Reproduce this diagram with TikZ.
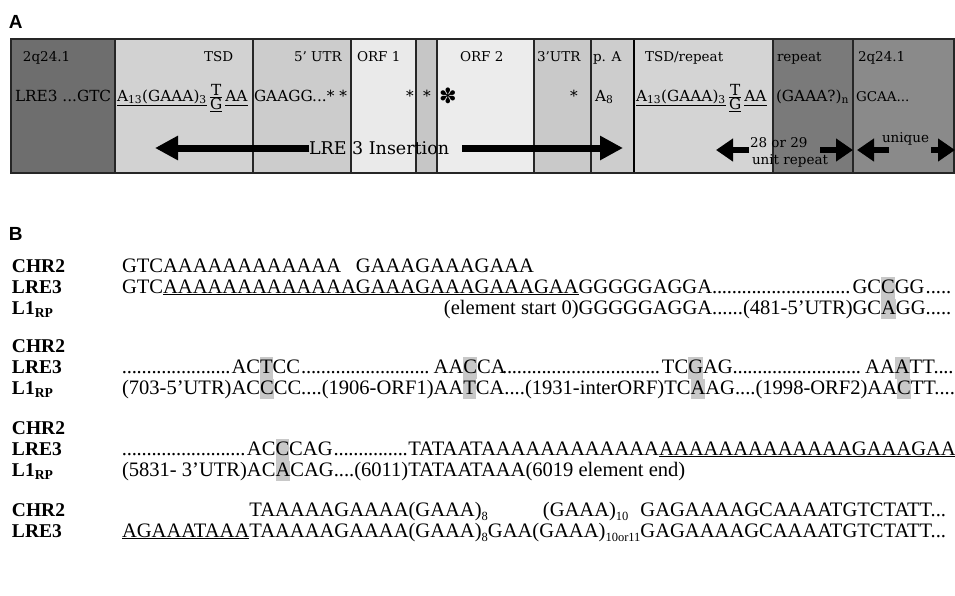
\documentclass[tikz,border=0pt]{standalone}
\usepackage{fontspec}
\setmainfont{Liberation Serif}
\setsansfont{Liberation Sans}
\newfontfamily\pafont{DejaVu Serif}
\newfontfamily\symfont{DejaVu Sans}
\usetikzlibrary{arrows.meta}
\definecolor{gL}{HTML}{6E6E6E}
\definecolor{gTSD}{HTML}{D2D2D2}
\definecolor{gUTRf}{HTML}{CCCCCC}
\definecolor{gORFa}{HTML}{EAEAEA}
\definecolor{gInt}{HTML}{C6C6C6}
\definecolor{gORFb}{HTML}{ECECEC}
\definecolor{gUTRt}{HTML}{C9C9C9}
\definecolor{gPA}{HTML}{CDCDCD}
\definecolor{gTSDr}{HTML}{D4D4D4}
\definecolor{gRep}{HTML}{7A7A7A}
\definecolor{gR}{HTML}{8A8A8A}
\definecolor{hl}{HTML}{C8C8C8}
\newcommand\hlu[1]{{\setlength\fboxsep{0pt}\colorbox{hl}{\rule[-6pt]{0pt}{22pt}#1}}}
\newcommand\hll[1]{{\setlength\fboxsep{0pt}\colorbox{hl}{\rule[-5pt]{0pt}{20pt}#1}}}
\newcommand\alg[2]{\setbox0\hbox{#1}\hbox to\wd0{#2\hss}}
\newcommand\ralg[2]{\setbox0\hbox{#1}\hbox to\wd0{\hss#2}}
\newcommand\dotw[1]{\setbox0\hbox{#1}\hbox to\wd0{\leaders\hbox to .24em{\hss.\hss}\hfill}}
\newcommand\lowsub[1]{\raisebox{-4pt}{\fontsize{12.5}{14}\selectfont #1}}
\newcommand\TG{${\hbox{T}\over\hbox{\underline{G}}}$}
\newcommand\tsd{\underline{A\textsubscript{13}(GAAA)\textsubscript{3}}\kern2pt\TG\kern2pt\underline{\vphantom{A\textsubscript{3}}AA}}
\newcommand\Afive{AAAAA}
\newcommand\Ath{\Afive\Afive AAA}
\newcommand\preA{GTC\underline{\Ath GAAAGAAAGAAAGAA}}
\tikzset{
  txt/.style={anchor=base west, inner sep=0pt, outer sep=0pt},
  pa/.style={txt, font=\pafont\fontsize{13.5}{16}\selectfont},
  pas/.style={txt, font=\pafont\fontsize{15.3}{18}\selectfont},
  sq/.style={txt, font=\fontsize{20.55}{24}\selectfont},
  lab/.style={txt, font=\bfseries\fontsize{19.5}{24}\selectfont},
  panel/.style={txt, font=\sffamily\bfseries\fontsize{19}{22}\selectfont},
  bigarr/.style={line width=7pt, -{Triangle[length=23pt,width=23pt]}},
  smallarr/.style={line width=6pt, -{Triangle[length=17pt,width=22pt]}},
  divider/.style={line width=1.1pt, black!85}
}
\begin{document}
\begin{tikzpicture}[x=1pt,y=-1pt]
\useasboundingbox[fill=white] (0,0) rectangle (955,595);
% ---------- Panel A ----------
\node[panel] (labA) at (9,28) {A};
\foreach \xa/\xb/\c in {11/115/gL, 115/253/gTSD, 253/351/gUTRf, 351/416/gORFa, 416/437/gInt, 437/534/gORFb, 534/591/gUTRt, 591/634/gPA, 634/773/gTSDr, 773/853/gRep, 853/954/gR}
  \fill[\c] (\xa,39) rectangle (\xb,173);
\foreach \xd in {115,253,351,416,437,534,591,773,853}
  \draw[divider] (\xd,39) -- (\xd,173);
\draw[line width=1.6pt] (634,39) -- (634,173);
\draw[line width=1.2pt, black!85] (11,39) rectangle (954,173);
% headers
\node[pa] (h1) at (23,61) {2q24.1};
\node[pa] (h2) at (204,61) {TSD};
\node[pa] (h3) at (294,61) {5’ UTR};
\node[pa] (h4) at (357,61) {ORF 1};
\node[pa] (h5) at (460,61) {ORF 2};
\node[pa] (h6) at (537,61) {3’UTR};
\node[pa] (h7) at (593,61) {p. A};
\node[pa] (h8) at (645,61) {TSD/repeat};
\node[pa] (h9) at (777,61) {repeat};
\node[pa] (h10) at (858,61) {2q24.1};
% sequence row
\node[pas] (s1) at (15,101) {LRE3 ...GTC};
\node[pas] (s2) at (117,101) {\tsd};
\node[pas] (s3) at (254,101) {GAAGG...* *};
\node[pas] (s4) at (406,101) {*};
\node[pas] (s5) at (423,101) {*};
\node[txt, font=\symfont\fontsize{21}{24}\selectfont] (s6) at (439,103) {✽};
\node[pas] (s7) at (570,101) {*};
\node[pas] (s8) at (595,101) {A\textsubscript{8}};
\node[pas] (s9) at (636,101) {\tsd};
\node[pas] (s10) at (776,101) {(GAAA?)\textsubscript{n}};
\node[pa] (s11) at (856,101) {GCAA...};
% arrows
\coordinate (la1) at (309,148); \coordinate (la2) at (155,148);
\coordinate (ra1) at (462,148); \coordinate (ra2) at (623,148);
\draw[bigarr] (la1) -- (la2);
\draw[bigarr] (ra1) -- (ra2);
\node[txt, font=\pafont\fontsize{17.5}{20}\selectfont] (ins) at (309,154) {LRE 3 Insertion};
\coordinate (u1) at (749,150); \coordinate (u2) at (716,150);
\coordinate (u3) at (820,150); \coordinate (u4) at (853,150);
\coordinate (q1) at (889,150); \coordinate (q2) at (857,150);
\coordinate (q3) at (931,150); \coordinate (q4) at (955,150);
\draw[smallarr] (u1) -- (u2);
\draw[smallarr] (u3) -- (u4);
\draw[smallarr] (q1) -- (q2);
\draw[smallarr] (q3) -- (q4);
\node[pa] (t28) at (750,147) {28 or 29};
\node[pa] (tunit) at (752,164) {unit repeat};
\node[pa] (tuniq) at (882,142) {unique};
% ---------- Panel B ----------
\node[panel] (labB) at (9,240) {B};
% block 1
\node[lab] (b1c) at (12,272) {CHR2};
\node[lab] (b1l) at (12,293) {LRE3};
\node[lab] (b1r) at (12,314) {L1\textsubscript{RP}};
\node[sq] (q1c) at (122,272) {\alg{GTC\Ath}{GTC\Afive\Afive AA}GAAAGAAAGAAA};
\node[sq] (q1l) at (122,293) {\preA GGGGGAGGA\dotw{......(481-5’UTR)}\alg{GCAGG}{GC\hlu{C}GG}.....};
\node[sq] (q1r) at (122,314) {\ralg{\preA}{(element start 0)}GGGGGAGGA......(481-5’UTR)GC\hll{A}GG.....};
% block 2
\node[lab] (b2c) at (12,352) {CHR2};
\node[lab] (b2l) at (12,373) {LRE3};
\node[lab] (b2r) at (12,394) {L1\textsubscript{RP}};
\node[sq] (q2l) at (122,373) {\dotw{(703-5’UTR)}\alg{ACCCC}{AC\hlu{T}CC}\dotw{....(1906-ORF1)}\alg{AATCA}{AA\hlu{C}CA}\dotw{....(1931-interORF)}\alg{TCAAG}{TC\hlu{G}AG}\dotw{....(1998-ORF2)}\alg{AACTT}{AA\hlu{A}TT}\dotw{....}};
\node[sq] (q2r) at (122,394) {(703-5’UTR)AC\hll{C}CC....(1906-ORF1)AA\hll{T}CA....(1931-interORF)TC\hll{A}AG....(1998-ORF2)AA\hll{C}TT....};
% block 3
\node[lab] (b3c) at (12,434) {CHR2};
\node[lab] (b3l) at (12,455) {LRE3};
\node[lab] (b3r) at (12,476) {L1\textsubscript{RP}};
\node[sq] (q3l) at (122,455) {\dotw{(5831- 3’UTR)}\alg{ACACAG}{AC\hlu{C}CAG}\dotw{....(6011)}TATAAT\Afive\Afive AA\underline{\Ath GAAAGAA}};
\node[sq] (q3r) at (122,476) {(5831- 3’UTR)AC\hll{A}CAG....(6011)TATAATAAA(6019 element end)};
% block 4
\node[lab] (b4c) at (12,516) {CHR2};
\node[lab] (b4l) at (12,537) {LRE3};
\node[sq] (q4c) at (122,516) {\ralg{\underline{AGAAATAAA}TAAAAAGAAAA(GAAA)\lowsub{8}}{TAAAAAGAAAA(GAAA)\lowsub{8}}\ralg{GAA(GAAA)\lowsub{10or11}}{(GAAA)\lowsub{10}\hspace{12pt}}GAGAAAAGCAAAATGTCTATT...};
\node[sq] (q4l) at (122,537) {\underline{AGAAATAAA}TAAAAAGAAAA(GAAA)\lowsub{8}GAA(GAAA)\lowsub{10or11}GAGAAAAGCAAAATGTCTATT...};
\end{tikzpicture}
\end{document}
